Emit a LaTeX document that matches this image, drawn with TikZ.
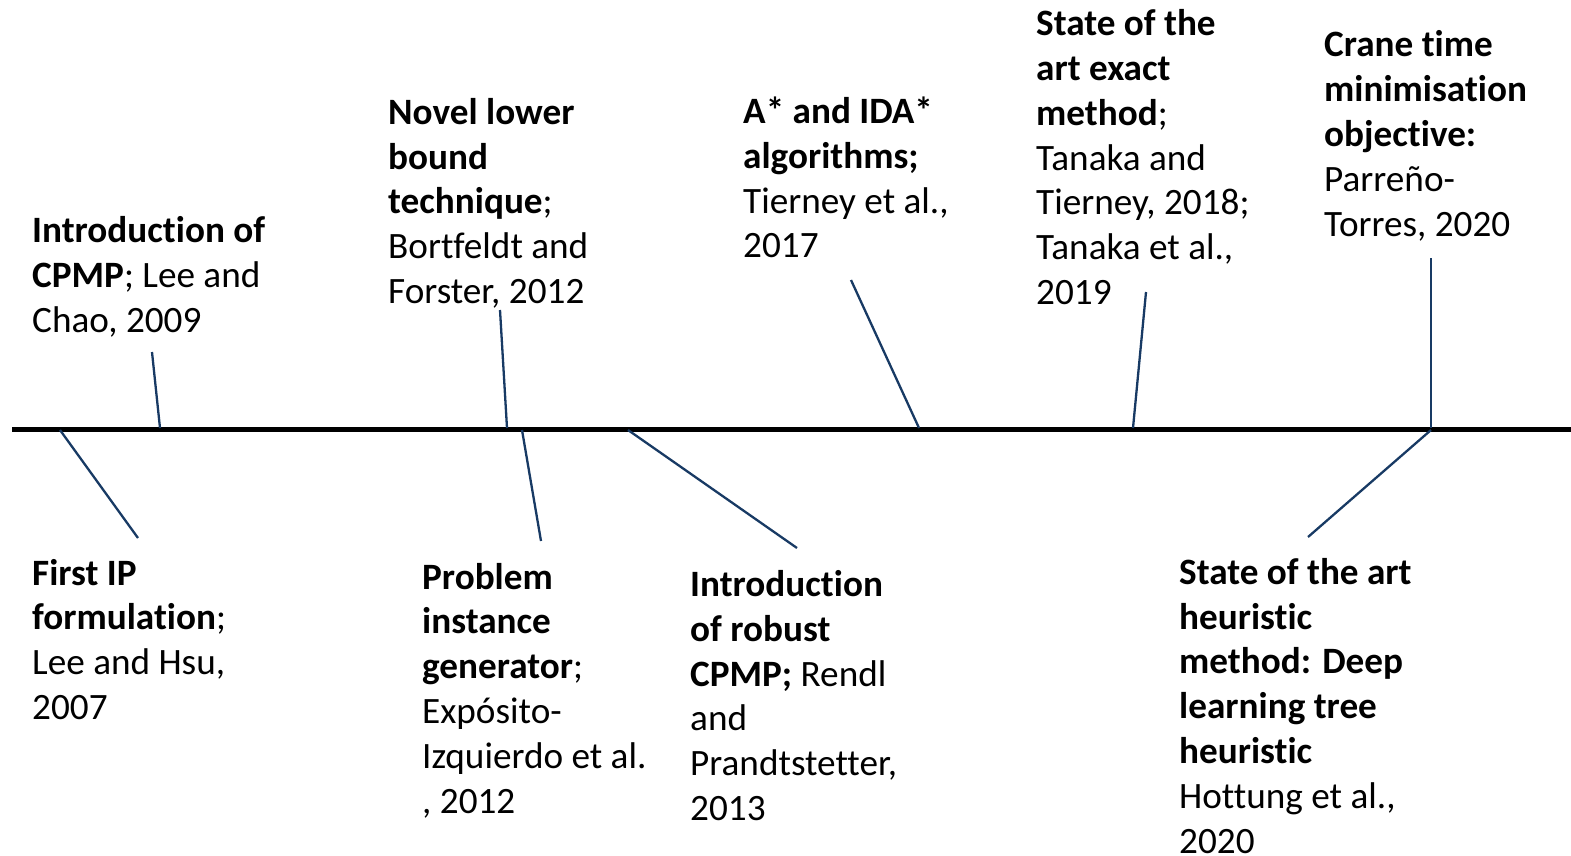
\documentclass[tikz,border=0pt]{standalone}
\usepackage{fontspec}
\setmainfont{Carlito}[Ligatures=CommonOff]
\definecolor{conn}{RGB}{24,58,100}
\begin{document}
\begin{tikzpicture}[x=1pt,y=-1pt,
  lbl/.style={anchor=base west,align=left,inner sep=0pt,
    font=\fontsize{37.2}{44.8}\selectfont},
  conline/.style={draw=conn,line width=2.3pt},
  axis/.style={draw=black,line width=5pt}]
\useasboundingbox (0,0) rectangle (1571,855);
% timeline
\coordinate (tl0) at (12,429);
\coordinate (tl1) at (1571,429);
\draw[axis] (tl0) -- (tl1);
% labels (anchored at the baseline of the last line)
\node[lbl] (cpmp) at (32,332) {\textbf{Introduction of}\\\textbf{CPMP}; Lee and\\Chao, 2009};
\node[lbl] (novel) at (388,303.5) {\textbf{Novel lower}\\\textbf{bound}\\\textbf{technique};\\Bortfeldt and\\Forster, 2012};
\node[lbl] (astar) at (743,257.8) {\textbf{A* and IDA*}\\\textbf{algorithms;}\\Tierney et al.,\\2017};
\node[lbl] (exact) at (1036,304.5) {\textbf{State of the}\\\textbf{art exact}\\\textbf{method};\\Tanaka and\\Tierney, 2018;\\Tanaka et al.,\\2019};
\node[lbl] (crane) at (1324,236) {\textbf{Crane time}\\\textbf{minimisation}\\\textbf{objective:}\\Parreño-\\Torres, 2020};
\node[lbl] (firstip) at (32,719.5) {\textbf{First IP}\\\textbf{formulation};\\Lee and Hsu,\\2007};
\node[lbl] (gen) at (422,813) {\textbf{Problem}\\\textbf{instance}\\\textbf{generator};\\Expósito-\\Izquierdo et al.\\, 2012};
\node[lbl] (robust) at (690,820.5) {\textbf{Introduction}\\\textbf{of robust}\\\textbf{CPMP;} Rendl\\and\\Prandtstetter,\\2013};
\node[lbl] (heur) at (1179,853) {\textbf{State of the art}\\\textbf{heuristic}\\\textbf{method: Deep}\\\textbf{learning tree}\\\textbf{heuristic}\\Hottung et al.,\\2020};
% connector end points
\coordinate (a1) at (152,352); \coordinate (b1) at (160,428);
\coordinate (a2) at (138,538); \coordinate (b2) at (60,430);
\coordinate (a3) at (500,310); \coordinate (b3) at (507,428);
\coordinate (a4) at (541,541); \coordinate (b4) at (522,430);
\coordinate (a5) at (797,548); \coordinate (b5) at (628,430);
\coordinate (a6) at (851,280); \coordinate (b6) at (919,428);
\coordinate (a7) at (1146,292); \coordinate (b7) at (1133,428);
\coordinate (a8) at (1431,258); \coordinate (b8) at (1431,428);
\coordinate (a9) at (1308,537); \coordinate (b9) at (1431,430);
\foreach \i in {1,...,9} \draw[conline] (a\i) -- (b\i);
\end{tikzpicture}
\end{document}
